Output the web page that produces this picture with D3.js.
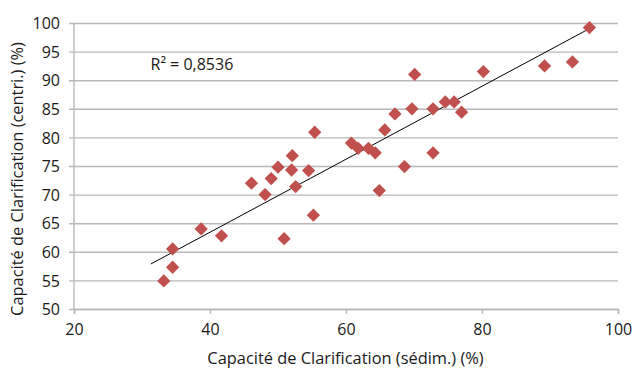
<!DOCTYPE html>
<html>
<head>
<meta charset="utf-8">
<script src="https://cdn.jsdelivr.net/npm/d3@7"></script>
<style>
  body { margin: 0; background: #fff; }
  text { font-family: "Open Sans", sans-serif; fill: #1a1a1a; }
</style>
</head>
<body>
<svg id="canvas" width="633" height="369"></svg>
<script>
// values
const sedim = [33.2, 34.5, 34.5, 38.7, 41.7, 46.1, 48.1, 49.0, 50.0, 52.1, 52.0, 52.6, 50.9, 54.5, 55.2, 55.4,
  60.8, 61.8, 63.3, 64.3, 65.7, 67.2, 69.7, 70.1, 64.9, 68.6, 72.8, 74.6, 75.9, 77.0, 72.8, 80.2, 89.2, 93.3, 95.8];
const centri = [54.9, 57.3, 60.5, 64.0, 62.8, 72.0, 70.0, 72.8, 74.8, 76.8, 74.3, 71.4, 62.3, 74.2, 66.4, 80.9,
  79.0, 78.1, 78.1, 77.3, 81.3, 84.1, 85.0, 91.0, 70.7, 74.9, 85.0, 86.2, 86.2, 84.4, 77.3, 91.5, 92.5, 93.2, 99.2];
const xTicks = [20, 40, 60, 80, 100];
const yTicks = [50, 55, 60, 65, 70, 75, 80, 85, 90, 95, 100];
// trend line as drawn in the original (start/end x, slope, intercept)
const trendRange = [31.3, 95.6];
const trendSlope = 0.638, trendIntercept = 37.9;
const r2Label = "R² = 0,8536";

const width = 633, height = 369;
const margin = { left: 74, right: 15, top: 23, bottom: 60 };
const svg = d3.select("#canvas");

const x = d3.scaleLinear().domain([20, 100]).range([margin.left, width - margin.right]);
const y = d3.scaleLinear().domain([50, 100]).range([height - margin.bottom, margin.top]);

const data = sedim.map((s, i) => ({ s, c: centri[i] }));

// gridlines + y axis
const yAxis = d3.axisLeft(y).tickValues(yTicks).tickSize(-(x.range()[1] - x.range()[0])).tickPadding(10);
const yG = svg.append("g").attr("transform", `translate(${margin.left - 5},0)`).call(yAxis);
yG.select(".domain").remove();
yG.selectAll(".tick line").attr("x1", 0).attr("x2", x.range()[1] - margin.left + 5)
  .attr("stroke", "#b8b8b8").attr("stroke-width", 1.4);
yG.selectAll(".tick text").attr("x", -9).style("font-size", "16px").attr("dy", "0.36em");

svg.append("line")
  .attr("x1", margin.left).attr("x2", margin.left)
  .attr("y1", y(100)).attr("y2", y(50))
  .attr("stroke", "#b8b8b8").attr("stroke-width", 1.4);

// x axis
const xAxis = d3.axisBottom(x).tickValues(xTicks).tickSize(5).tickPadding(10);
const xG = svg.append("g").attr("transform", `translate(0,${y(50)})`).call(xAxis);
xG.select(".domain").attr("stroke", "#b8b8b8").attr("stroke-width", 1.4);
xG.selectAll(".tick line").attr("stroke", "#b8b8b8").attr("stroke-width", 1.4);
xG.selectAll(".tick text").style("font-size", "16px");

// linear trend
const trend = v => trendIntercept + trendSlope * v;
svg.append("line")
  .attr("x1", x(trendRange[0])).attr("y1", y(trend(trendRange[0])))
  .attr("x2", x(trendRange[1])).attr("y2", y(trend(trendRange[1])))
  .attr("stroke", "#000").attr("stroke-width", 1);

// points
const diamond = d3.symbol().type(d3.symbolSquare).size(88);
svg.append("g").selectAll("path")
  .data(data)
  .join("path")
  .attr("d", diamond)
  .attr("transform", d => `translate(${x(d.s)},${y(d.c)}) rotate(45)`)
  .attr("fill", "#c0504d");

svg.append("text").attr("x", 150.5).attr("y", 70).style("font-size", "16px").text(r2Label);

svg.append("text")
  .attr("x", 345.5).attr("y", 364).attr("text-anchor", "middle").style("font-size", "16.4px")
  .text("Capacité de Clarification (sédim.) (%)");
svg.append("text")
  .attr("transform", "translate(23,179) rotate(-90)").attr("text-anchor", "middle").style("font-size", "16.4px")
  .text("Capacité de Clarification (centri.) (%)");
</script>
</body>
</html>
